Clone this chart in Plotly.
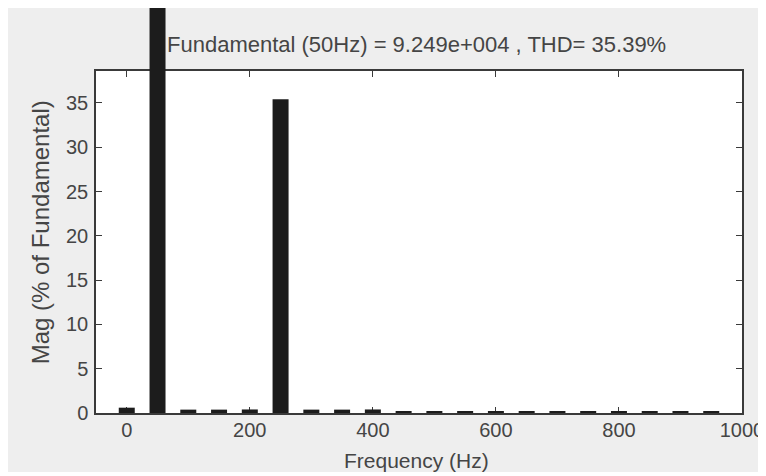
import plotly.graph_objects as go

freq_hz = [0, 50, 100, 150, 200, 250, 300, 350, 400, 450, 500, 550, 600, 650, 700, 750, 800, 850, 900, 950]
mag_pct = [0.6, 100.0, 0.38, 0.38, 0.4, 35.4, 0.38, 0.38, 0.4, 0.2, 0.2, 0.2, 0.2, 0.2, 0.2, 0.2, 0.2, 0.2, 0.2, 0.2]
x_ticks = [0, 200, 400, 600, 800, 1000]
y_ticks = [0, 5, 10, 15, 20, 25, 30, 35]
title_text = "Fundamental (50Hz) = 9.249e+004 , THD= 35.39%"

# figure sits in the page with the browser's 8px body margin
W, H = 756, 464
L, R, B = 88, 756 - 738, 464 - 405
PLOT_TOP = 63            # top of the visible axes box (figure px)
pw = W - L - R
paper_h = H - B          # paper spans from figure top to axes bottom (t=0)
ph = paper_h - PLOT_TOP
X_RANGE = [-50, 1000]
Y_MAX = 38.6
dom_top = ph / paper_h


def px_x(p):
    return (p - L) / pw


def px_y(p):
    return (paper_h - p) / paper_h


font = "Liberation Sans, Arial, sans-serif"
txt = "#454545"
axc = "#3a3a3a"

fig = go.Figure()
# the visible axes box (bars transparent here, only to create the subplot)
fig.add_trace(go.Bar(
    x=freq_hz, y=mag_pct, width=26, xaxis="x", yaxis="y",
    marker=dict(color="rgba(0,0,0,0)", line=dict(width=0)),
    hoverinfo="skip",
))
# bars drawn on a taller, invisible subplot with the same scale, so the
# fundamental can run past the top of the axes box as in the original
fig.add_trace(go.Bar(
    x=freq_hz, y=mag_pct, width=26, xaxis="x2", yaxis="y2",
    marker=dict(color="#1c1c1c", line=dict(width=0)),
    hoverinfo="x+y",
))

axis_common = dict(ticks="inside", ticklen=6, tickcolor=axc, tickwidth=1.2,
                   showline=True, linecolor=axc, linewidth=1.5, mirror="ticks",
                   showgrid=False, zeroline=False, ticklabeloverflow="allow",
                   tickfont=dict(family=font, size=20, color=txt))

fig.update_layout(
    width=W, height=H,
    margin=dict(l=L, r=R, t=0, b=B, pad=0),
    paper_bgcolor="#eeeeee", plot_bgcolor="rgba(0,0,0,0)",
    showlegend=False,
    font=dict(family=font, size=20, color=txt),
    xaxis=dict(range=X_RANGE, tickvals=x_ticks, ticklabelstandoff=-2,
               domain=[0, 1], anchor="y", **axis_common),
    yaxis=dict(range=[0, Y_MAX], tickvals=y_ticks, ticklabelstandoff=2,
               domain=[0, dom_top], anchor="x", **axis_common),
    xaxis2=dict(range=X_RANGE, domain=[0, 1], anchor="y2", visible=False),
    yaxis2=dict(range=[0, Y_MAX / dom_top], domain=[0, 1], anchor="x2", visible=False),
    shapes=[
        dict(type="rect", xref="x domain", yref="y domain", x0=0, x1=1, y0=0, y1=1,
             layer="below", fillcolor="white", line=dict(width=0)),
    ],
    annotations=[
        dict(text=title_text, xref="paper", yref="paper", x=px_x(410), y=px_y(37),
             xanchor="center", yanchor="middle", showarrow=False,
             font=dict(family=font, size=22, color=txt)),
        dict(text="Frequency (Hz)", xref="paper", yref="paper", x=px_x(410), y=px_y(452),
             xanchor="center", yanchor="middle", showarrow=False,
             font=dict(family=font, size=21, color=txt)),
        dict(text="Mag (% of Fundamental)", xref="paper", yref="paper", x=px_x(32), y=px_y(224),
             xanchor="center", yanchor="middle", showarrow=False, textangle=-90,
             font=dict(family=font, size=24, color=txt)),
    ],
)

fig.write_html("out.html")
